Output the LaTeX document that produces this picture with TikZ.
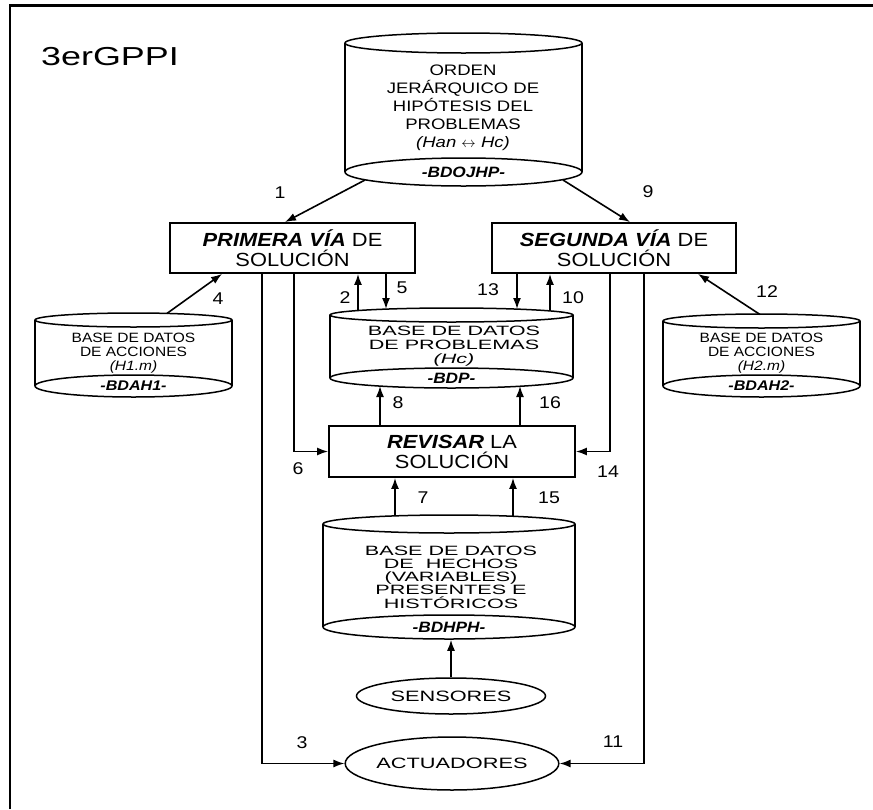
\documentclass[tikz,border=0pt]{standalone}
\usepackage{fontspec}
\setmainfont{Liberation Sans}[FakeStretch=1.15]
\newfontfamily\widefont{Liberation Sans}[FakeStretch=1.45]
\newfontfamily\widerfont{Liberation Sans}[FakeStretch=1.6]
\newfontfamily\topfont{Liberation Sans}[FakeStretch=1.22]
\usetikzlibrary{arrows.meta,shapes.geometric}
\newcommand\mycyl[5]{% cx, rx, ytop, ryt, ybot
  \draw[cyl] (#1-#2,#3) -- (#1-#2,#5) (#1+#2,#3) -- (#1+#2,#5);
  \draw[cyl] (#1,#3) ellipse [x radius=#2, y radius=#4];}
\tikzset{
  arr/.style={line width=1.6pt, -{Latex[length=11pt,width=8pt]}},
  cyl/.style={line width=1.5pt},
  cylbase/.style={ellipse, draw, line width=1.5pt, fill=white, inner sep=0pt,
    font=\fontsize{15}{15}\selectfont\bfseries\itshape},
  box/.style={draw, line width=1.8pt, minimum height=50pt, align=center,
    font=\fontsize{19}{20}\selectfont, inner sep=0pt},
  oval/.style={ellipse, draw, line width=1.5pt, inner sep=0pt,
    font=\fontsize{15}{15}\selectfont\widefont},
  lbl/.style={font=\fontsize{17}{17}\selectfont, inner sep=0pt},
  cyltxt/.style={align=center, inner sep=0pt}
}
\begin{document}
\begin{tikzpicture}[x=1pt,y=-1pt]
\useasboundingbox (0,0) rectangle (873,809);
% frame
\draw[line width=2.2pt] (10,809) -- (10,5.5) -- (873,5.5);
\node[anchor=west, inner sep=0pt, font=\fontsize{26}{26}\selectfont] (title) at (41,57) {\scalebox{1.2}[1]{3erGPPI}};

% top cylinder
\mycyl{463.5}{118.5}{43}{10}{172}
\node[cylbase, minimum width=237pt, minimum height=28pt] (bdojhp) at (463.5,172) {-BDOJHP-};
\node[cyltxt, font=\fontsize{15.2}{18}\selectfont\topfont] (bdojhpT) at (463,108)
  {ORDEN\\JERÁRQUICO DE\\HIPÓTESIS DEL\\PROBLEMAS\\\textit{(Han $\leftrightarrow$ Hc)}};

% BDAH1
\mycyl{133.5}{98.5}{320}{7}{386}
\node[cylbase, minimum width=197pt, minimum height=22pt, font=\fontsize{14}{14}\selectfont\bfseries\itshape] (bdah1) at (133.5,386) {-BDAH1-};
\node[cyltxt, font=\fontsize{13.5}{13.8}\selectfont] (bdah1T) at (133.5,353)
  {BASE DE DATOS\\DE ACCIONES\\\textit{(H1.m)}};

% BDAH2
\mycyl{761.5}{98.5}{321}{7}{386}
\node[cylbase, minimum width=197pt, minimum height=22pt, font=\fontsize{14}{14}\selectfont\bfseries\itshape] (bdah2) at (761.5,386) {-BDAH2-};
\node[cyltxt, font=\fontsize{13.5}{13.8}\selectfont] (bdah2T) at (761.5,353)
  {BASE DE DATOS\\DE ACCIONES\\\textit{(H2.m)}};

% BDP
\mycyl{451.5}{121.5}{315}{7}{378}
\node[cylbase, minimum width=243pt, minimum height=20pt] (bdp) at (451.5,378) {-BDP-};
\node[cyltxt, font=\fontsize{13.5}{13.8}\selectfont\widerfont] (bdpT) at (454,346)
  {BASE DE DATOS\\DE PROBLEMAS\\\textit{(Hc)}};

% BDHPH
\mycyl{449}{126}{524}{9}{627}
\node[cylbase, minimum width=252pt, minimum height=24pt] (bdhph) at (449,627) {-BDHPH-};
\node[cyltxt, font=\fontsize{13.5}{13.3}\selectfont\widerfont] (bdhphT) at (451,577)
  {BASE DE DATOS\\DE\ \ HECHOS\\(VARIABLES)\\PRESENTES E\\HISTÓRICOS};

% boxes
\node[box, minimum width=245pt] (prim) at (292.5,248)
  {\textbf{\textit{PRIMERA VÍA}} DE\\SOLUCIÓN};
\node[box, minimum width=244pt] (seg) at (614,248)
  {\textbf{\textit{SEGUNDA VÍA}} DE\\SOLUCIÓN};
\node[box, minimum width=246pt, minimum height=51pt] (rev) at (452,451.5)
  {\textbf{\textit{REVISAR}} LA\\SOLUCIÓN};

% ovals
\node[oval, minimum width=189pt, minimum height=36pt] (sens) at (451,696) {SENSORES};
\node[oval, minimum width=189pt, minimum height=53pt] (act) at (452,763.5) {ACTUADORES};

% end points on cylinder outlines
\coordinate (c1) at (365,180);
\coordinate (c9) at (563,180);
\coordinate (c4) at (167,313.4);
\coordinate (c12) at (760,314.5);
\coordinate (c2) at (358,310.5);
\coordinate (c5) at (386,309);
\coordinate (c13) at (517,309);
\coordinate (c10) at (550,311);
\coordinate (c8) at (380,386);
\coordinate (c16) at (520,386);
\coordinate (c7) at (395,516);
\coordinate (c15) at (513,516);

% connectors
\draw[arr] (c1) -- ([xshift=-7.5pt]prim.north);
\draw[arr] (c9) -- ([xshift=16pt]seg.north);
\draw[arr] (c4) -- ([xshift=-70.5pt]prim.south);
\draw[arr] (c12) -- ([xshift=84pt]seg.south);
\draw[arr] (c2) -- (c2 |- prim.south);
\draw[arr] (c5 |- prim.south) -- (c5);
\draw[arr] (c13 |- seg.south) -- (c13);
\draw[arr] (c10) -- (c10 |- seg.south);
\draw[arr] (c8 |- rev.north) -- (c8);
\draw[arr] (c16 |- rev.north) -- (c16);
\draw[arr] (c7) -- (c7 |- rev.south);
\draw[arr] (c15) -- (c15 |- rev.south);
\draw[arr] (sens.north) -- (sens.north |- bdhph.south);
\draw[arr] ([xshift=1.5pt]prim.south) |- (rev.west);
\draw[arr] ([xshift=-4pt]seg.south) |- (rev.east);
\draw[arr] ([xshift=-30.5pt]prim.south) |- (act.west);
\draw[arr] ([xshift=30pt]seg.south) |- (act.east);

% labels
\node[lbl] (l1) at (280,193) {1};
\node[lbl] (l9) at (648,192) {9};
\node[lbl] (l4) at (218,299) {4};
\node[lbl] (l12) at (767,292) {12};
\node[lbl] (l2) at (345,298) {2};
\node[lbl] (l5) at (402,288) {5};
\node[lbl] (l13) at (488,290) {13};
\node[lbl] (l10) at (573,298) {10};
\node[lbl] (l8) at (398,403) {8};
\node[lbl] (l16) at (550,403) {16};
\node[lbl] (l6) at (298,469) {6};
\node[lbl] (l14) at (608,472) {14};
\node[lbl] (l7) at (423,498) {7};
\node[lbl] (l15) at (549,498) {15};
\node[lbl] (l3) at (302,743) {3};
\node[lbl] (l11) at (613,742) {11};
\end{tikzpicture}
\end{document}
